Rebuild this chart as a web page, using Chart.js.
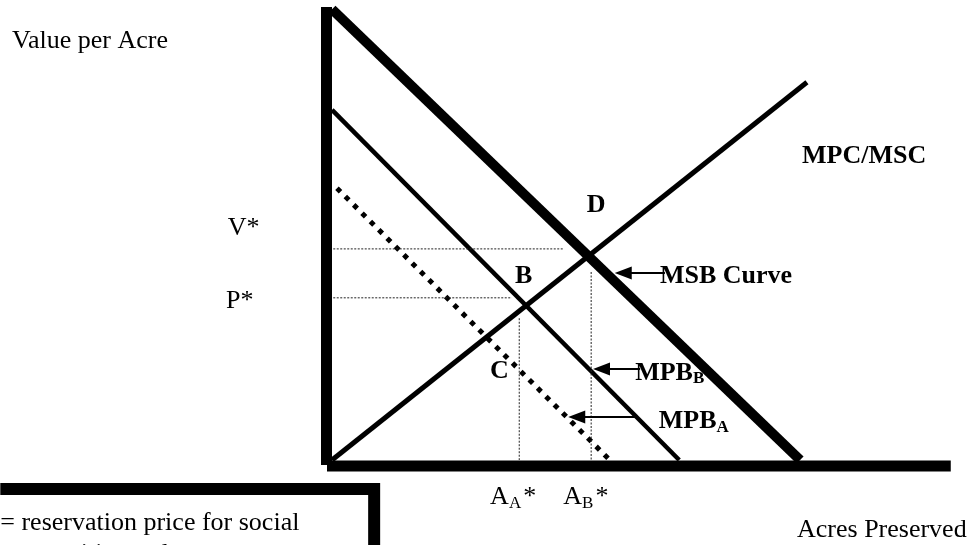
<!DOCTYPE html>
<html><head><meta charset="utf-8">
<script src="https://cdn.jsdelivr.net/npm/chart.js@4.4.1/dist/chart.umd.min.js"></script>
<style>html,body{margin:0;padding:0;background:#fff;overflow:hidden}#wrap{width:971px;height:545px;position:relative}</style>
</head><body><div id="wrap"><canvas id="c" width="971" height="545"></canvas></div>
<script>
// ---- curves (x = acres preserved, y = value per acre) ----
const msbX = [0, 75.5],   msbY = [99.5, 0];     // MSB curve
const mpbBX = [0, 56],    mpbBY = [77.3, 0];    // MPB_B
const mpbAX = [0.8, 44.8], mpbAY = [60, 0];     // MPB_A
const mpcX = [0, 76.6],   mpcY = [0, 83.4];     // MPC/MSC
// ---- guide lines ----
const vStarLevel = 46.6, vStarEndX = 37.3;
const pStarLevel = 35.8, pStarEndX = 29;
const aAStar = 30.2, aATop = 31.3;
const aBStar = 41.8, aBTop = 41.5;
// ---- axis extents ----
const xAxisMax = 99.8, yAxisMax = 100;

const SERIF = "'Liberation Serif','Times New Roman',serif";
const pts = (xs, ys) => xs.map((x, i) => ({x, y: ys[i]}));

const labels = [
  {x: -51.6, y: 91.0, parts: [{t: 'Value per Acre'}]},
  {x: -16.8, y: 49.7, parts: [{t: 'V*'}]},
  {x: -17.1, y: 33.6, parts: [{t: 'P*'}]},
  {x: 29.5, y: 39.1, parts: [{t: 'B', b: true}]},
  {x: 41.1, y: 54.7, parts: [{t: 'D', b: true}]},
  {x: 25.5, y: 18.1, parts: [{t: 'C', b: true}]},
  {x: 75.8, y: 65.6, parts: [{t: 'MPC/MSC', b: true}]},
  {x: 52.9, y: 39.1, parts: [{t: 'MSB Curve', b: true}]},
  {x: 48.9, y: 17.7, parts: [{t: 'MPB', b: true}, {t: 'B', b: true, s: 17, dy: 3}]},
  {x: 52.7, y: 7.06, parts: [{t: 'MPB', b: true}, {t: 'A', b: true, s: 17, dy: 4}]},
  {x: 25.5, y: -9.7, parts: [{t: 'A'}, {t: 'A', s: 17, dy: 4}, {t: '*', dx: 2}]},
  {x: 37.3, y: -9.7, parts: [{t: 'A'}, {t: 'B', s: 17, dy: 4}, {t: '*', dx: 2}]},
  {x: 75.0, y: -17.0, parts: [{t: 'Acres Preserved'}]},
  {x: -53.5, y: -15.4, parts: [{t: '= reservation price for social'}]},
  {x: -49.6, y: -22.3, parts: [{t: 'amenities and'}]}
];
const arrows = [
  {x1: 53.7, x2: 45.6, y: 41.28},
  {x1: 49.7, x2: 42.1, y: 20.09},
  {x1: 48.9, x2: 38.1, y: 9.49}
];
const box = {x0: -53.5, x1: 6.8, yTop: -6.4, yBot: -20};

const overlay = {
  id: 'overlay',
  afterDatasetsDraw(chart) {
    const ctx = chart.ctx, sx = chart.scales.x, sy = chart.scales.y;
    const px = v => sx.getPixelForValue(v), py = v => sy.getPixelForValue(v);
    ctx.save();
    ctx.strokeStyle = '#000'; ctx.fillStyle = '#000';
    // axes
    ctx.lineCap = 'butt';
    ctx.lineWidth = 11;
    ctx.beginPath();
    ctx.moveTo(px(0) - 5.5, py(yAxisMax)); ctx.lineTo(px(0) - 5.5, py(0) + 5);
    ctx.stroke();
    ctx.beginPath();
    ctx.moveTo(px(0) - 5, py(0) + 6); ctx.lineTo(px(xAxisMax), py(0) + 6);
    ctx.stroke();
    // box
    ctx.lineWidth = 12; ctx.lineJoin = 'miter';
    ctx.beginPath();
    ctx.moveTo(px(box.x0), py(box.yTop)); ctx.lineTo(px(box.x1), py(box.yTop)); ctx.lineTo(px(box.x1), py(box.yBot));
    ctx.stroke();
    // arrows
    arrows.forEach(a => {
      const x1 = px(a.x1), x2 = px(a.x2), y = py(a.y);
      ctx.lineWidth = 1.8;
      ctx.beginPath(); ctx.moveTo(x1, y); ctx.lineTo(x2 + 10, y); ctx.stroke();
      ctx.beginPath(); ctx.moveTo(x2, y); ctx.lineTo(x2 + 17, y - 6.5); ctx.lineTo(x2 + 17, y + 6.5); ctx.closePath(); ctx.fill();
    });
    // labels
    ctx.textBaseline = 'alphabetic'; ctx.textAlign = 'left';
    labels.forEach(l => {
      let x = px(l.x); const y = py(l.y);
      l.parts.forEach(p => {
        ctx.font = (p.b ? 'bold ' : '') + (p.s || 26) + 'px ' + SERIF;
        x += (p.dx || 0);
        ctx.fillText(p.t, x, y + (p.dy || 0));
        x += ctx.measureText(p.t).width;
      });
    });
    ctx.restore();
  }
};

const guide = {borderColor: '#222', borderWidth: 1, borderDash: [2, 1.5], pointRadius: 0, showLine: true, clip: false};
new Chart(document.getElementById('c'), {
  type: 'scatter',
  data: {
    datasets: [
      Object.assign({label: 'V*', data: pts([0.2, vStarEndX], [vStarLevel, vStarLevel])}, guide),
      Object.assign({label: 'P*', data: pts([0.2, pStarEndX], [pStarLevel, pStarLevel])}, guide),
      Object.assign({label: 'AA*', data: pts([aAStar, aAStar], [aATop, 0])}, guide),
      Object.assign({label: 'AB*', data: pts([aBStar, aBStar], [aBTop, 0])}, guide),
      {label: 'MPB_A', data: pts(mpbAX, mpbAY), showLine: true, borderColor: '#000', borderWidth: 5,
       borderDash: [5, 6.8], borderCapStyle: 'butt', pointRadius: 0, clip: false},
      {label: 'MPB_B', data: pts(mpbBX, mpbBY), showLine: true, borderColor: '#000', borderWidth: 4.5,
       pointRadius: 0, clip: false},
      {label: 'MPC/MSC', data: pts(mpcX, mpcY), showLine: true, borderColor: '#000', borderWidth: 5,
       pointRadius: 0, clip: false},
      {label: 'MSB', data: pts(msbX, msbY), showLine: true, borderColor: '#000', borderWidth: 10,
       pointRadius: 0, clip: false}
    ]
  },
  options: {
    responsive: false, animation: false, devicePixelRatio: 1,
    layout: {padding: {left: 332, right: 19, top: 7, bottom: 85}},
    scales: {
      x: {type: 'linear', min: 0, max: 100, display: false},
      y: {type: 'linear', min: 0, max: 100, display: false}
    },
    plugins: {legend: {display: false}, tooltip: {enabled: false}, title: {display: false}}
  },
  plugins: [overlay]
});
</script></body></html>
